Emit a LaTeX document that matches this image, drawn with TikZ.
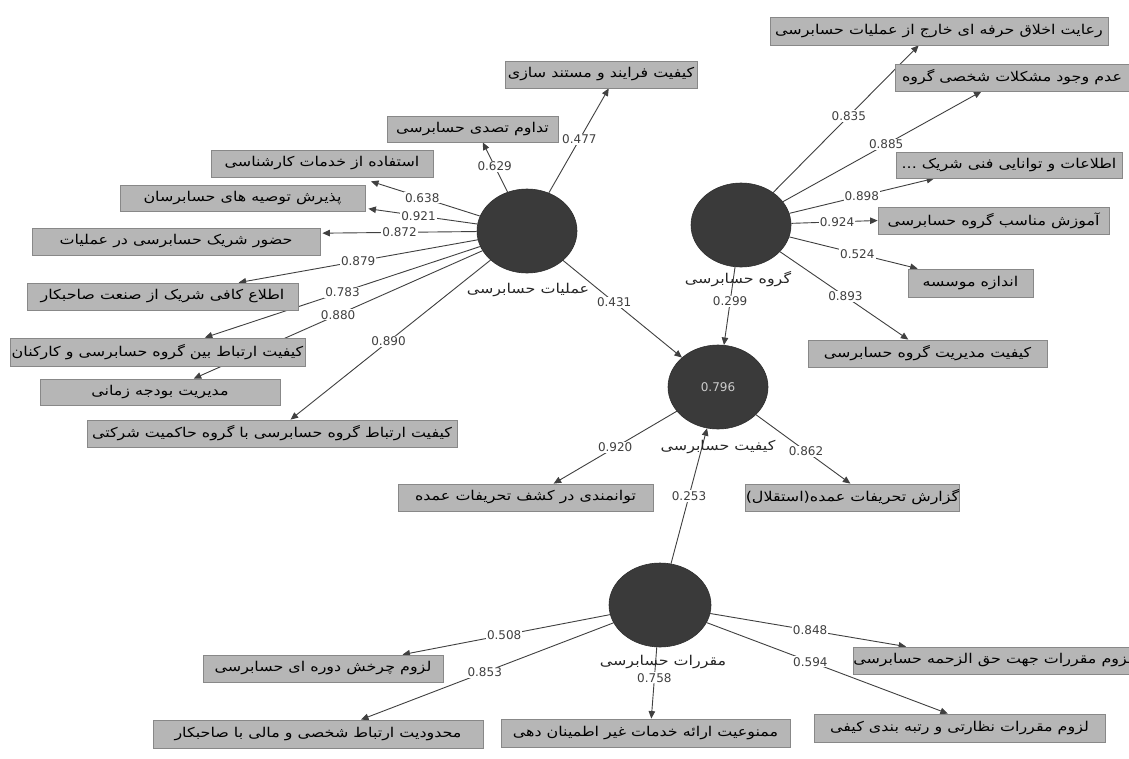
\documentclass[tikz,border=0pt]{standalone}
\usepackage{fontspec}
\usetikzlibrary{arrows.meta,shapes.geometric,calc}
\TeXXeTstate=1
\newfontfamily\fa[Script=Arabic]{DejaVu Sans}
\newfontfamily\num{DejaVu Sans}
\newcommand\rtltxt[1]{\scalebox{1.18}[1]{\beginR #1\endR}}
\definecolor{boxfill}{HTML}{B6B6B6}
\definecolor{boxedge}{HTML}{888888}
\definecolor{lvfill}{HTML}{3A3A3A}
\definecolor{lnc}{HTML}{404040}
\definecolor{numc}{HTML}{404040}
\pgfdeclarelayer{bg}
\pgfsetlayers{bg,main}
\tikzset{
 item/.style={rectangle, fill=boxfill, draw=boxedge, line width=0.8pt, inner sep=0pt, minimum height=27pt, font=\fa\fontsize{13.5}{15}\selectfont},
 latent/.style={ellipse, fill=lvfill, draw=lvfill!80!black, line width=0.6pt, minimum width=100pt, minimum height=84pt, inner sep=0pt},
 conn/.style={draw=lnc, line width=0.9pt, -{Triangle[length=7.5pt,width=6.5pt]}},
 lab/.style={fill=white, inner sep=1pt, font=\num\fontsize{12}{14}\selectfont, text=numc},
 lvname/.style={font=\fa\fontsize{13.5}{15}\selectfont, inner sep=1pt, text=black!85},
}
\begin{document}
\begin{tikzpicture}[x=1pt,y=-1pt]
\path[use as bounding box] (0,0) rectangle (1129,758);

% latent variables
\node[latent] (A) at (527,231) {};
\node[latent] (G) at (741,225) {};
\node[latent] (Q) at (718,387) {};
\node[latent, minimum width=102pt] (M) at (660,605) {};
\node[font=\num\fontsize{12}{14}\selectfont, text=black!20] (Qv) at (Q) {0.796};

% indicators: left
\node[item, minimum width=192pt] (L1) at (601,74.5) {\rtltxt{کیفیت فرایند و مستند سازی}};
\node[item, minimum width=171pt, minimum height=26pt] (L2) at (472.5,129) {\rtltxt{تداوم تصدی حسابرسی}};
\node[item, minimum width=222pt] (L3) at (322,163.5) {\rtltxt{استفاده از خدمات کارشناسی}};
\node[item, minimum width=245pt, minimum height=26pt] (L4) at (242.5,198) {\rtltxt{پذیرش توصیه های حسابرسان}};
\node[item, minimum width=288pt] (L5) at (176,241.5) {\rtltxt{حضور شریک حسابرسی در عملیات}};
\node[item, minimum width=271pt] (L6) at (162.5,296.5) {\rtltxt{اطلاع کافی شریک از صنعت صاحبکار}};
\node[item, minimum width=295pt, minimum height=28pt] (L7) at (157.5,352) {\rtltxt{کیفیت ارتباط بین گروه حسابرسی و کارکنان}};
\node[item, minimum width=240pt, minimum height=26pt] (L8) at (160,392) {\rtltxt{مدیریت بودجه زمانی}};
\node[item, minimum width=370pt] (L9) at (272,433.5) {\rtltxt{کیفیت ارتباط گروه حسابرسی با گروه حاکمیت شرکتی}};

% indicators: right
\node[item, minimum width=338pt, minimum height=28pt] (R1) at (939,31) {\rtltxt{رعایت اخلاق حرفه ای خارج از عملیات حسابرسی}};
\node[item, minimum width=234pt] (R2) at (1012,77.5) {\rtltxt{عدم وجود مشکلات شخصی گروه}};
\node[item, minimum width=226pt, minimum height=26pt] (R3) at (1009,165) {\rtltxt{اطلاعات و توانایی فنی شریک ...}};
\node[item, minimum width=231pt] (R4) at (993.5,220.5) {\rtltxt{آموزش مناسب گروه حسابرسی}};
\node[item, minimum width=125pt, minimum height=28pt] (R5) at (970.5,283) {\rtltxt{اندازه موسسه}};
\node[item, minimum width=239pt] (R6) at (927.5,353.5) {\rtltxt{کیفیت مدیریت گروه حسابرسی}};

% indicators: centre
\node[item, minimum width=255pt] (C1) at (525.5,497.5) {\rtltxt{توانمندی در کشف تحریفات عمده}};
\node[item, minimum width=205pt] (C2) at (852.5,497.5) {\rtltxt{گزارش تحریفات عمده(استقلال)}};

% indicators: bottom
\node[item, minimum width=240pt] (B1) at (323,668.5) {\rtltxt{لزوم چرخش دوره ای حسابرسی}};
\node[item, minimum width=330pt, minimum height=28pt] (B2) at (318,734) {\rtltxt{محدودیت ارتباط شخصی و مالی با صاحبکار}};
\node[item, minimum width=289pt, minimum height=28pt] (B3) at (645.5,733) {\rtltxt{ممنوعیت ارائه خدمات غیر اطمینان دهی}};
\node[item, minimum width=276pt] (B4) at (993,660.5) {\rtltxt{لزوم مقررات جهت حق الزحمه حسابرسی}};
\node[item, minimum width=291pt, minimum height=28pt] (B5) at (959.5,728) {\rtltxt{لزوم مقررات نظارتی و رتبه بندی کیفی}};

% connectors
\begin{pgfonlayer}{bg}
\fill[white] (0,0) rectangle (1129,758);
\draw[conn] (A) -- node[lab,pos=.51] (a1) {0.477} ($(L1.south west)!.54!(L1.south east)$);
\draw[conn] (A) -- node[lab,pos=.52] (a2) {0.629} ($(L2.south west)!.56!(L2.south east)$);
\draw[conn] (A) -- node[lab,pos=.53] (a3) {0.638} ($(L3.south west)!.72!(L3.south east)+(0,4)$);
\draw[conn] (A) -- node[lab,pos=.54] (a4) {0.921} ($(L4.north east)!.9!(L4.south east)+(3,0)$);
\draw[conn] (A) -- node[lab,pos=.50] (a5) {0.872} ($(L5.north east)!.2!(L5.south east)+(2,0)$);
\draw[conn] (A) -- node[lab,pos=.50] (a6) {0.879} ($(L6.north west)!.78!(L6.north east)$);
\draw[conn] (A) -- node[lab,pos=.50] (a7) {0.783} ($(L7.north west)!.66!(L7.north east)$);
\draw[conn] (A) -- node[lab,pos=.50] (a8) {0.880} ($(L8.north west)!.64!(L8.north east)$);
\draw[conn] (A) -- node[lab,pos=.51] (a9) {0.890} ($(L9.north west)!.55!(L9.north east)$);
\draw[conn] (A) -- node[lab,pos=.43] (aq) {0.431} (Q);

\draw[conn] (G) -- node[lab,pos=.52] (g1) {0.835} ($(R1.south west)!.44!(R1.south east)$);
\draw[conn] (G) -- node[lab,pos=.52] (g2) {0.885} ($(R2.south west)!.37!(R2.south east)$);
\draw[conn] (G) -- node[lab,pos=.50] (g3) {0.898} ($(R3.south west)!.17!(R3.south east)$);
\draw[conn] (G) -- node[lab,pos=.53] (g4) {0.924} (R4.west);
\draw[conn] (G) -- node[lab,pos=.53] (g5) {0.524} ($(R5.north west)!.08!(R5.north east)$);
\draw[conn] (G) -- node[lab,pos=.51] (g6) {0.893} ($(R6.north west)!.42!(R6.north east)$);
\draw[conn] (G) -- node[lab,pos=.44] (gq) {0.299} (Q);

\draw[conn] (Q) -- node[lab,pos=.50] (q1) {0.920} ($(C1.north west)!.61!(C1.north east)$);
\draw[conn] (Q) -- node[lab,pos=.53] (q2) {0.862} ($(C2.north west)!.49!(C2.north east)$);

\draw[conn] (M) -- node[lab,pos=.50] (mq) {0.253} (Q);
\draw[conn] (M) -- node[lab,pos=.51] (m1) {0.508} ($(B1.north west)!.83!(B1.north east)$);
\draw[conn] (M) -- node[lab,pos=.51] (m2) {0.853} ($(B2.north west)!.63!(B2.north east)$);
\draw[conn] (M) -- node[lab,pos=.43] (m3) {0.758} ($(B3.north west)!.52!(B3.north east)$);
\draw[conn] (M) -- node[lab,pos=.51] (m4) {0.848} ($(B4.north west)!.19!(B4.north east)$);
\draw[conn] (M) -- node[lab,pos=.43] (m5) {0.594} ($(B5.north west)!.46!(B5.north east)$);
\end{pgfonlayer}

% names of latent variables
\node[lvname] (An) at (528,290) {\rtltxt{عملیات حسابرسی}};
\node[lvname] (Gn) at (738,279) {\rtltxt{گروه حسابرسی}};
\node[lvname] (Qn) at (718,447) {\rtltxt{کیفیت حسابرسی}};
\node[lvname] (Mn) at (663,662) {\rtltxt{مقررات حسابرسی}};
\end{tikzpicture}
\end{document}
